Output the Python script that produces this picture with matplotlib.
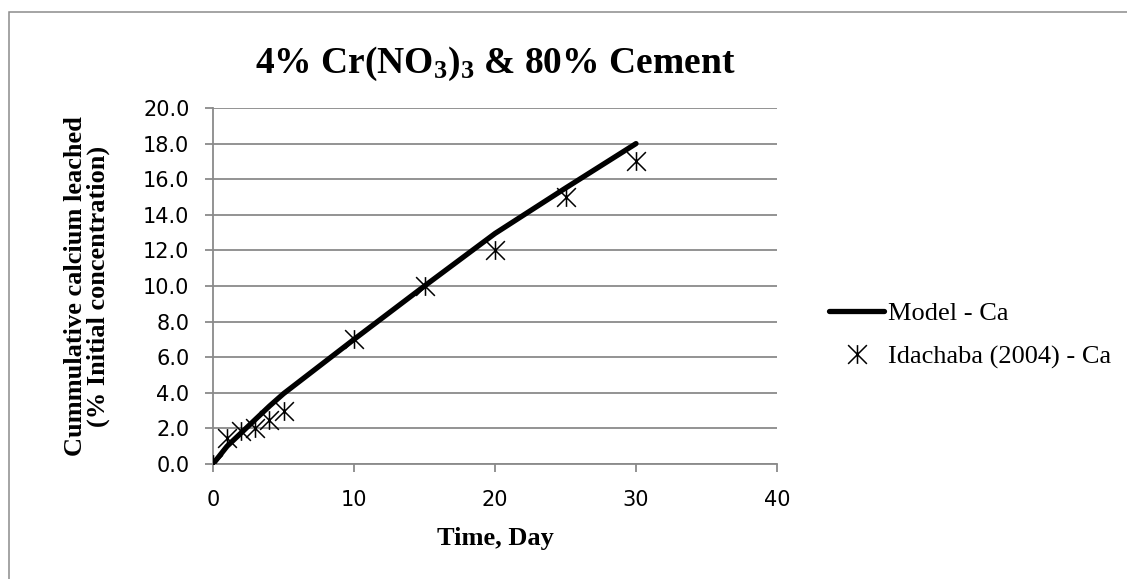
import matplotlib
matplotlib.use("Agg")
import matplotlib.pyplot as plt
from matplotlib.path import Path
from matplotlib.patches import Rectangle

# ---- data ----
days = [0, 1, 2, 3, 4, 5, 10, 15, 20, 25, 30]
model_ca = [0.0, 1.0, 1.75, 2.5, 3.25, 3.95, 7.0, 10.0, 12.95, 15.5, 18.0]
idachaba_ca = [0.0, 1.45, 1.85, 2.0, 2.5, 3.0, 7.0, 10.0, 12.0, 15.0, 17.0]
x_ticks = [0, 10, 20, 30, 40]
y_ticks = [0, 2, 4, 6, 8, 10, 12, 14, 16, 18, 20]

title = r"4% Cr(NO$_3$)$_3$ & 80% Cement"
xlabel = "Time, Day"
ylabel = "Cummulative calcium leached\n(% Initial concentration)"
series_labels = ["Model - Ca", "Idachaba (2004) - Ca"]

plt.rcParams['mathtext.fontset'] = 'custom'
plt.rcParams['mathtext.rm'] = 'Liberation Serif:bold'
plt.rcParams['mathtext.it'] = 'Liberation Serif:bold'
plt.rcParams['mathtext.bf'] = 'Liberation Serif:bold'

W, H = 1127, 579
fig = plt.figure(figsize=(W / 100, H / 100), dpi=100)

# chart-area border (gray)
fig.patches.append(Rectangle((9 / W, -0.1), 1.2, 1.1 - 12 / H,
                             transform=fig.transFigure, fill=False,
                             edgecolor='#8c8c8c', linewidth=1.1))

left, right, bottom, top = 213, 777, 464, 108
ax = fig.add_axes([left / W, 1 - bottom / H, (right - left) / W, (bottom - top) / H])

grid_col = '#8a8a8a'
star = Path([(-1, -1), (1, 1), (-1, 1), (1, -1), (0, -1), (0, 1)],
            [Path.MOVETO, Path.LINETO, Path.MOVETO, Path.LINETO, Path.MOVETO, Path.LINETO])

ax.plot(days, model_ca, color='black', linewidth=3.8, solid_capstyle='round',
        label=series_labels[0], zorder=3)
ax.plot(days, idachaba_ca, linestyle='none', marker=star, markersize=13.5,
        markeredgewidth=1.1, markeredgecolor='black', markerfacecolor='none',
        label=series_labels[1], zorder=4)

ax.set_xlim(0, 40)
ax.set_ylim(0, 20)
ax.set_xticks(x_ticks)
ax.set_yticks(y_ticks)
ax.set_yticklabels([f"{v:.1f}" for v in y_ticks])
ax.yaxis.grid(True, color=grid_col, linewidth=1.3)
ax.set_axisbelow(True)
for s in ['top', 'right']:
    ax.spines[s].set_visible(False)
for s in ['left', 'bottom']:
    ax.spines[s].set_color(grid_col)
    ax.spines[s].set_linewidth(1.3)
ax.tick_params(axis='both', direction='out', length=6, width=1.3, color=grid_col,
               labelsize=15)
ax.tick_params(axis='y', pad=11)
ax.tick_params(axis='x', pad=13)
for lab in ax.get_xticklabels() + ax.get_yticklabels():
    lab.set_fontfamily('DejaVu Sans')

ax.set_xlabel(xlabel, fontsize=19, fontweight='bold', fontfamily='Liberation Serif')
ax.xaxis.label.set_va('center')
ax.xaxis.set_label_coords(0.5, (bottom - 538) / (bottom - top))
ax.set_ylabel(ylabel, fontsize=19, fontweight='bold', fontfamily='Liberation Serif',
              linespacing=1.0)
ax.yaxis.label.set_va('center')
ax.yaxis.set_label_coords((87 - left) / (right - left), 0.5)

fig.text((left + right) / 2 / W, 1 - 73 / H, title, fontsize=27, fontweight='bold',
         fontfamily='Liberation Serif', ha='center', va='baseline')

leg = fig.legend(loc='center left', bbox_to_anchor=(829 / W, 1 - 335 / H),
                 frameon=False, prop={'family': 'Liberation Serif', 'size': 19},
                 handlelength=2.1, handletextpad=0.15, labelspacing=0.75,
                 borderpad=0, borderaxespad=0)

fig.savefig("out.png", dpi=100)
